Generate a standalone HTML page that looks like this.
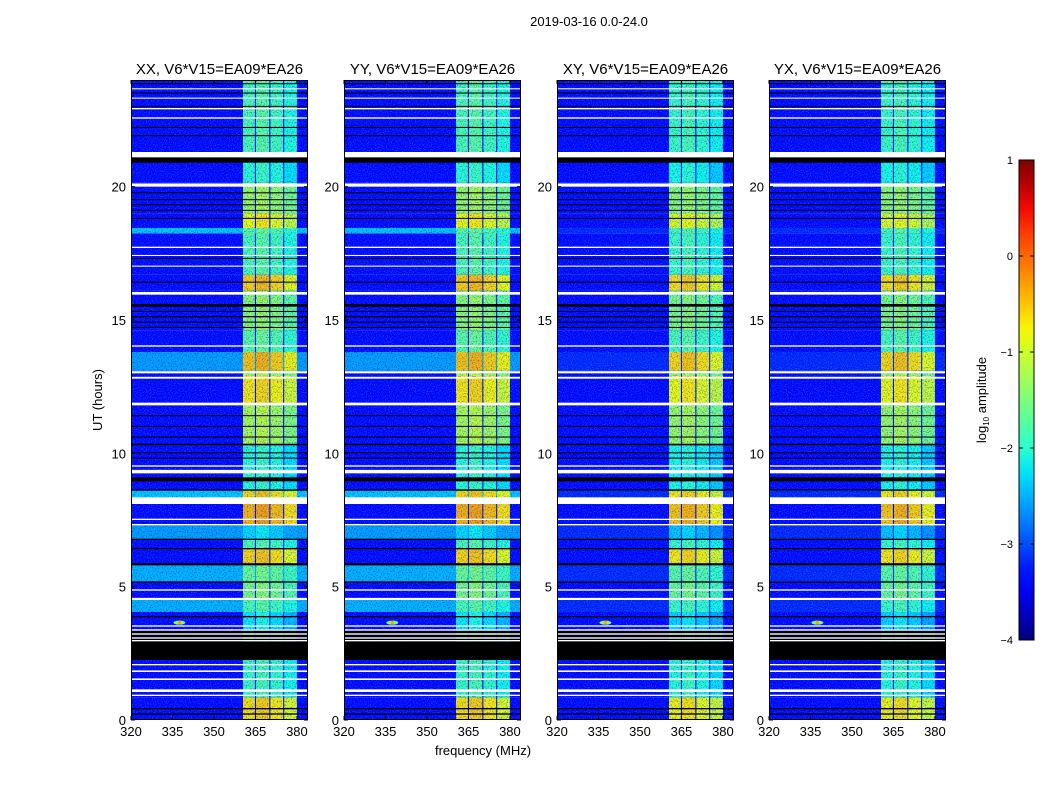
<!DOCTYPE html>
<html><head><meta charset="utf-8"><style>
html,body{margin:0;padding:0;background:#fff;}
svg{display:block;font-family:"Liberation Sans",sans-serif;}
</style></head><body>
<svg id="chart" width="1050" height="800" viewBox="0 0 1050 800" xmlns="http://www.w3.org/2000/svg">
<defs>
<filter id="noise" x="0" y="0" width="100%" height="100%">
<feTurbulence type="fractalNoise" baseFrequency="0.95" numOctaves="1" seed="3"/>
<feColorMatrix type="matrix" values="0 0 0 0 0.05  0 0 0 0 0.55  0 0 0 0 1  0 0 0 3 -1.45"/>
</filter>
<filter id="dark" x="0" y="0" width="100%" height="100%">
<feTurbulence type="fractalNoise" baseFrequency="0.8" numOctaves="1" seed="11"/>
<feColorMatrix type="matrix" values="0 0 0 0 0  0 0 0 0 0  0 0 0 0 0.45  0 0 0 3 -1.5"/>
</filter>
<linearGradient id="jetgrad" x1="0" y1="1" x2="0" y2="0"></linearGradient>
</defs>
<text x="589" y="26" font-size="13" text-anchor="middle">2019-03-16 0.0-24.0</text>
<text transform="translate(102,400) rotate(-90)" font-size="13" text-anchor="middle">UT (hours)</text>
<text x="483" y="755" font-size="13" text-anchor="middle">frequency (MHz)</text>
<g id="panels"></g>
<g id="cbar"></g>
</svg>
<script>
// ---- data ----
const panelTitles = ["XX, V6*V15=EA09*EA26","YY, V6*V15=EA09*EA26","XY, V6*V15=EA09*EA26","YX, V6*V15=EA09*EA26"];
const xTicks = [320,335,350,365,380];
const yTicks = [0,5,10,15,20];
const cbTicks = [1,0,-1,-2,-3,-4];
// data time ranges (hours) with log10 amplitude for background and RFI band
const dataStart = [0,0.85,2.25,3.4,4.05,4.5,5.2,5.8,6.4,6.8,7.3,8.1,8.6,10.3,11.85,12.9,13.1,13.8,14.6,16.1,16.7,18.25,18.45,19.0,20.15,21.3];
const dataEnd   = [0.85,2.25,3.4,4.05,4.5,5.2,5.8,6.4,6.8,7.3,8.1,8.6,10.3,11.85,12.9,13.1,13.8,14.6,16.1,16.7,18.25,18.45,19.0,20.15,21.3,24];
const bgLevel   = [-3.35,-3.35,-3.35,-3.35,-2.5,-3.35,-2.5,-3.35,-3.35,-2.6,-3.35,-2.4,-3.35,-3.35,-3.35,-3.35,-2.6,-3.35,-3.35,-3.35,-3.35,-2.4,-3.35,-3.35,-3.35,-3.35];
const bandLevel = [-0.65,-1.9,-2.0,-2.2,-1.8,-1.5,-1.6,-0.6,-1.8,-2.3,-0.4,-0.6,-2.0,-1.2,-0.7,-1.2,-0.5,-1.7,-1.4,-0.55,-1.8,-1.7,-0.8,-1.3,-2.0,-1.8];
// flagged (black) and blank (white) time ranges
const flagStart = [0.2,0.4,2.25,3.0,3.1,3.25,3.85,5.15,5.8,6.4,6.75,8.6,8.95,9.8,10.0,10.3,10.6,11.0,11.4,14.7,14.9,15.1,15.3,15.5,16.4,17.3,18.8,19.1,19.3,19.5,19.75,20.9,21.9,22.2,23.0,23.5,23.85];
const flagEnd   = [0.25,0.45,2.95,3.05,3.2,3.35,3.9,5.2,5.88,6.45,6.8,8.65,9.1,9.84,10.04,10.36,10.63,11.03,11.43,14.74,14.94,15.15,15.34,15.6,16.44,17.33,18.83,19.13,19.34,19.53,19.79,21.1,21.93,22.24,23.03,23.53,23.88];
const blankStart= [0.9,1.05,1.5,1.8,2.05,2.95,3.05,3.2,3.35,3.5,4.5,4.85,7.3,7.5,8.1,9.25,9.5,11.8,12.8,13.0,14.0,15.95,17.0,17.4,17.7,20.0,21.1,22.55,22.9,23.3,23.65];
const blankEnd  = [0.95,1.15,1.56,1.86,2.1,3.0,3.1,3.25,3.4,3.55,4.58,4.9,7.35,7.55,8.35,9.38,9.55,11.9,12.87,13.08,14.05,16.05,17.04,17.44,17.75,20.12,21.3,22.6,22.95,23.34,23.69];
const subBandLo = [360.5,365.2,370.4,375.4];
const subBandHi = [364.8,370.0,375.0,380.0];
const subBandOffset = [0,0.1,-0.05,-0.25];
const rfiFreq = 337.5, rfiHour = 3.65, rfiLevel = -0.3;

// ---- layout ----
const panelLeft = [131,344,557,769], PW = 177, PT = 80, PB = 720;
const FMIN = 320, FMAX = 384, TMIN = 0, TMAX = 24;
function xs(p,f){return panelLeft[p] + (f-FMIN)/(FMAX-FMIN)*PW;}
function ys(h){return PB - (h-TMIN)/(TMAX-TMIN)*(PB-PT);}
function jet(v){
  let t=Math.max(0,Math.min(1,(v+4)/5));
  function interp(pts){for(let i=1;i<pts.length;i++){if(t<=pts[i][0]){const a=pts[i-1],b=pts[i];return a[1]+(b[1]-a[1])*(t-a[0])/(b[0]-a[0]);}}return pts[pts.length-1][1];}
  const r=interp([[0,0],[0.35,0],[0.66,1],[0.89,1],[1,0.5]]);
  const g=interp([[0,0],[0.125,0],[0.375,1],[0.64,1],[0.91,0],[1,0]]);
  const b=interp([[0,0.5],[0.11,1],[0.34,1],[0.65,0],[1,0]]);
  return `rgb(${Math.round(r*255)},${Math.round(g*255)},${Math.round(b*255)})`;
}
const NS="http://www.w3.org/2000/svg";
function mk(tag,attrs,parent){const e=document.createElementNS(NS,tag);for(const k in attrs)e.setAttribute(k,attrs[k]);parent.appendChild(e);return e;}
const panels=document.getElementById('panels');
for(let p=0;p<4;p++){
  const g=mk('g',{},panels);
  
  
  const cross = p>=2;
  for(let i=0;i<dataStart.length;i++){
    const y0=ys(dataEnd[i]), y1=ys(dataStart[i]);
    const bg=cross?Math.min(bgLevel[i],-3.2):bgLevel[i];
    const r=mk('rect',{x:panelLeft[p],y:y0,width:PW,height:y1-y0,fill:jet(bg)},g);
    
    
    for(let s=0;s<subBandLo.length;s++){
      const xa=xs(p,subBandLo[s]), xb=xs(p,subBandHi[s]);
      const br=mk('rect',{x:xa,y:y0,width:xb-xa,height:y1-y0,fill:jet(bandLevel[i]+subBandOffset[s]+(cross?-0.1:0))},g);
      
      
    }
  }
  const nz=mk('rect',{x:panelLeft[p],y:PT,width:PW,height:PB-PT,filter:'url(#noise)',opacity:0.5},g);
  
  
  const nd=mk('rect',{x:panelLeft[p],y:PT,width:PW,height:PB-PT,filter:'url(#dark)',opacity:0.6},g);
  
  
  for(let i=0;i<flagStart.length;i++){
    const y0=ys(flagEnd[i]), y1=ys(flagStart[i]);
    const fr=mk('rect',{x:panelLeft[p],y:y0,width:PW,height:Math.max(1,y1-y0),fill:'#000'},g);
    
    
  }
  for(let i=0;i<blankStart.length;i++){
    const y0=ys(blankEnd[i]), y1=ys(blankStart[i]);
    const wr=mk('rect',{x:panelLeft[p],y:y0,width:PW,height:Math.max(1,y1-y0),fill:'#fff'},g);
    
    
  }
  const sp=mk('ellipse',{cx:xs(p,rfiFreq),cy:ys(rfiHour),rx:6,ry:2,fill:jet(rfiLevel-1.2)},g);
  
  
  const sp2=mk('ellipse',{cx:xs(p,rfiFreq),cy:ys(rfiHour),rx:1.5,ry:2,fill:jet(rfiLevel)},g);
  
  
  const fr=mk('rect',{x:panelLeft[p]+0.5,y:PT+0.5,width:PW-1,height:PB-PT-1,fill:'none',stroke:'#000','stroke-width':1},g);
  
  
  const tt=mk('text',{x:panelLeft[p]+PW/2,y:74,'font-size':15,'text-anchor':'middle'},g);
  tt.textContent=panelTitles[p];
  
  
  for(const f of xTicks){
    const x=xs(p,f);
    mk('line',{x1:x,x2:x,y1:PB,y2:PB-4,stroke:'#000'},g);
    mk('line',{x1:x,x2:x,y1:PT,y2:PT+4,stroke:'#000'},g);
    const t=mk('text',{x:x,y:PB+16,'font-size':13,'text-anchor':'middle'},g);
    t.textContent=f;
    
    
  }
  for(const h of yTicks){
    const y=ys(h);
    mk('line',{x1:panelLeft[p],x2:panelLeft[p]+4,y1:y,y2:y,stroke:'#000'},g);
    mk('line',{x1:panelLeft[p]+PW,x2:panelLeft[p]+PW-4,y1:y,y2:y,stroke:'#000'},g);
    const t=mk('text',{x:panelLeft[p]-5,y:y+5,'font-size':13,'text-anchor':'end'},g);
    t.textContent=h;
    
    
  }
}
const grad=document.getElementById('jetgrad');
for(let i=0;i<=20;i++){const v=-4+5*i/20;mk('stop',{offset:(i/20),'stop-color':jet(v)},grad);}
const cb=document.getElementById('cbar');
const CBX=1019,CBW=15,CBT=160,CBB=640;
const cr=mk('rect',{x:CBX,y:CBT,width:CBW,height:CBB-CBT,fill:'url(#jetgrad)',stroke:'#000','stroke-width':1},cb);


for(const v of cbTicks){
  const y=CBB-(v+4)/5*(CBB-CBT);
  mk('line',{x1:CBX,x2:CBX+4,y1:y,y2:y,stroke:'#000'},cb);
  mk('line',{x1:CBX+CBW,x2:CBX+CBW-4,y1:y,y2:y,stroke:'#000'},cb);
  const t=mk('text',{x:1013,y:y+4,'font-size':11,'text-anchor':'end'},cb);
  t.textContent=v<0?'\u2212'+Math.abs(v):String(v);
  
  
}
const lab=mk('text',{transform:'translate(986,400) rotate(-90)','font-size':13,'text-anchor':'middle'},cb);
lab.innerHTML='log<tspan font-size="8" dy="3">10</tspan><tspan dy="-3"> amplitude</tspan>';


</script>
</body></html>
